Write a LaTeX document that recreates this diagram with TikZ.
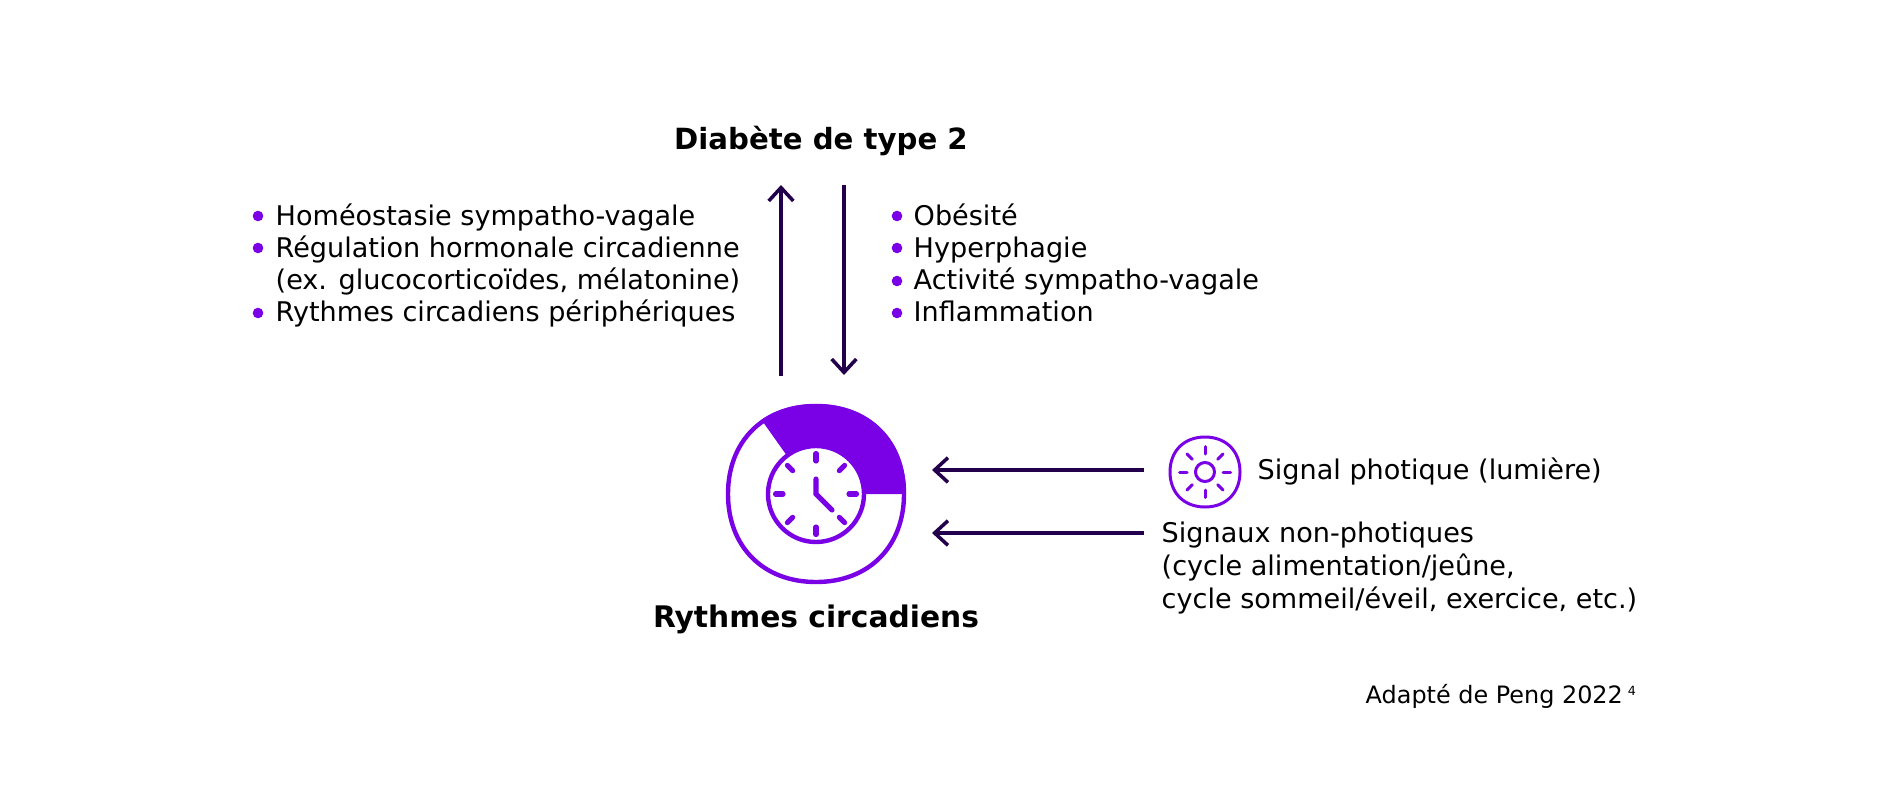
\documentclass[tikz,border=0pt]{standalone}
\usepackage{fontspec}
\setmainfont{DejaVu Sans}
\usetikzlibrary{arrows.meta}
\definecolor{RCPurple}{RGB}{122,0,230}
\definecolor{RCDark}{RGB}{35,0,76}
\newcommand{\blobpath}[2]{% centre, half width
  (#1) ++(#2,0) .. controls ++(0,0.6*#2) and ++(0.6*#2,0) .. ++(-#2,#2)
  .. controls ++(-0.6*#2,0) and ++(0,0.6*#2) .. ++(-#2,-#2)
  .. controls ++(0,-0.6*#2) and ++(-0.6*#2,0) .. ++(#2,-#2)
  .. controls ++(0.6*#2,0) and ++(0,-0.6*#2) .. ++(#2,#2) -- cycle}
\begin{document}
\begin{tikzpicture}[
      x=0.01cm, y=-0.01cm,
      txt/.style={inner sep=0pt, align=left, anchor=north west,
                  font=\fontsize{7.7pt}{9.15pt}\selectfont},
      head/.style={inner sep=0pt, font=\fontsize{8.45pt}{10pt}\selectfont\bfseries},
      arr/.style={-{Straight Barb[length=3.8pt, width=7pt, line width=1pt]}, draw=RCDark, line width=1.05pt},
      icon/.style={draw=RCPurple, line cap=round}
    ]
    \useasboundingbox (0,0) rectangle (1900,800);

    \node[head, font=\fontsize{8.3pt}{10pt}\selectfont\bfseries] (diabete) at (821,141) {Diabète de type 2};
    \node[head] (rythmes) at (816,619) {Rythmes circadiens};

    % listes
    \node[txt] (gauche) at (275,203) {Homéostasie sympatho-vagale\\Régulation hormonale circadienne\\(ex. glucocorticoïdes, mélatonine)\\Rythmes circadiens périphériques};
    \node[txt] (droite) at (913,203) {Obésité\\Hyperphagie\\Activité sympatho-vagale\\Inflammation};
    \foreach \x/\y in {258/216, 258/248, 258/313, 897/216, 897/248, 897/281, 897/313}{
      \fill[RCPurple] (\x,\y) circle (5.3);
    }

    % fleches
    \coordinate (upa) at (781,376);
    \coordinate (upb) at (781,185);
    \coordinate (downa) at (844,185);
    \coordinate (downb) at (844,375);
    \coordinate (phota) at (1144,470);
    \coordinate (photb) at (932,470);
    \coordinate (nona) at (1144,533);
    \coordinate (nonb) at (932,533);
    \draw[arr] (upa) -- (upb);
    \draw[arr] (downa) -- (downb);
    \draw[arr] (phota) -- (photb);
    \draw[arr] (nona) -- (nonb);

    % horloge
    \begin{scope}
      \clip (816,494) -- (930,494) -- (930,380) -- (746,398) -- (785,453) -- cycle;
      \fill[RCPurple] \blobpath{816,494}{90};
    \end{scope}
    \draw[icon, line width=1.25pt] \blobpath{816,494}{88};
    \draw[icon, fill=white, line width=1.25pt] (816,494) circle (48);
    \foreach \a in {0,45,...,315}{
      \draw[icon, line width=1.45pt] (816,494) ++(\a:33) -- ++(\a:7.5);
    }
    \draw[icon, line width=1.45pt] (816,479) -- (816,494) -- (832,510);

    % soleil
    \draw[icon, line width=0.85pt] \blobpath{1205,472}{35};
    \draw[icon, line width=0.85pt] (1205,472) circle (9.5);
    \foreach \a in {0,45,...,315}{
      \draw[icon, line width=0.85pt] (1205,472) ++(\a:18) -- ++(\a:7.5);
    }

    \node[txt] (photique) at (1257,457) {Signal photique (lumière)};
    \node[txt, font=\fontsize{7.7pt}{9.35pt}\selectfont] (nonphot) at (1161,521) {Signaux non-photiques\\(cycle alimentation/jeûne,\\cycle sommeil/éveil, exercice, etc.)};
    \node[txt, font=\fontsize{6.8pt}{8pt}\selectfont] (source) at (1365,684) {Adapté de Peng 2022\hspace{1.4pt}\raisebox{2.4pt}{\fontsize{3.6pt}{4pt}\selectfont 4}};
  \end{tikzpicture}
\end{document}
